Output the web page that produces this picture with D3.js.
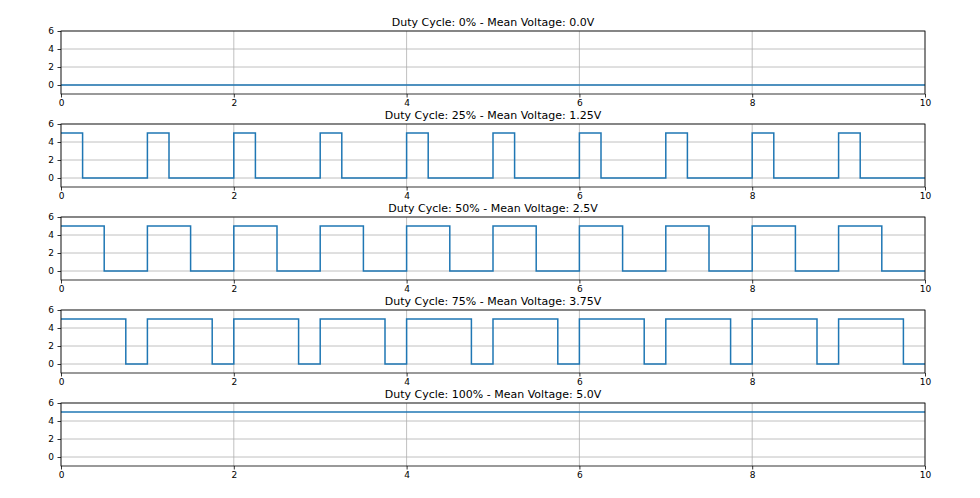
<!DOCTYPE html>
<html><head><meta charset="utf-8">
<script src="https://cdn.jsdelivr.net/npm/d3@7"></script>
<style>body{margin:0;background:#fff}svg{font-family:"DejaVu Sans",sans-serif}</style>
</head><body><svg id="c" width="980" height="498"></svg>
<script>
const titles = ["Duty Cycle: 0% - Mean Voltage: 0.0V","Duty Cycle: 25% - Mean Voltage: 1.25V","Duty Cycle: 50% - Mean Voltage: 2.5V","Duty Cycle: 75% - Mean Voltage: 3.75V","Duty Cycle: 100% - Mean Voltage: 5.0V"];
// step edges: time where level starts, and its value
const t0 = [0, 10];
const v0 = [0, 0];
const t25 = [0,0.25,1,1.25,2,2.25,3,3.25,4,4.25,5,5.25,6,6.25,7,7.25,8,8.25,9,9.25,10];
const v25 = [5,0,5,0,5,0,5,0,5,0,5,0,5,0,5,0,5,0,5,0,0];
const t50 = [0,0.5,1,1.5,2,2.5,3,3.5,4,4.5,5,5.5,6,6.5,7,7.5,8,8.5,9,9.5,10];
const v50 = [5,0,5,0,5,0,5,0,5,0,5,0,5,0,5,0,5,0,5,0,0];
const t75 = [0,0.75,1,1.75,2,2.75,3,3.75,4,4.75,5,5.75,6,6.75,7,7.75,8,8.75,9,9.75,10];
const v75 = [5,0,5,0,5,0,5,0,5,0,5,0,5,0,5,0,5,0,5,0,0];
const t100 = [0, 10];
const v100 = [5, 5];
const series = [[t0,v0],[t25,v25],[t50,v50],[t75,v75],[t100,v100]];
const xTicks = [0,2,4,6,8,10];
const yTicks = [0,2,4,6];

const svg = d3.select("#c");
const x = d3.scaleLinear().domain([0,10]).range([61,925]);
series.forEach(([ts,vs],i)=>{
  const top = 31 + i*93;
  const y = d3.scaleLinear().domain([-1,6]).range([top+63, top]);
  const g = svg.append("g");
  g.selectAll(".gx").data(xTicks).join("line").attr("x1",d=>x(d)).attr("x2",d=>x(d))
    .attr("y1",top).attr("y2",top+63).attr("stroke","#b0b0b0").attr("stroke-width",0.8);
  g.selectAll(".gy").data(yTicks).join("line").attr("y1",d=>y(d)).attr("y2",d=>y(d))
    .attr("x1",61).attr("x2",925).attr("stroke","#b0b0b0").attr("stroke-width",0.8);
  const pts = ts.map((t,k)=>[t,vs[k]]);
  g.append("path").datum(pts).attr("fill","none").attr("stroke","#1f77b4").attr("stroke-width",1.5)
    .attr("d",d3.line().x(d=>x(d[0])).y(d=>y(d[1])).curve(d3.curveStepAfter));
  const ax = g.append("g").attr("transform",`translate(0,${top+63})`)
    .call(d3.axisBottom(x).tickValues(xTicks).tickFormat(d3.format("d")).tickSize(3.5).tickPadding(2.5));
  const ay = g.append("g").attr("transform","translate(61,0)")
    .call(d3.axisLeft(y).tickValues(yTicks).tickFormat(d3.format("d")).tickSize(3.5).tickPadding(3.5));
  [ax,ay].forEach(a=>{a.select(".domain").remove();a.selectAll("text").attr("font-size",9).attr("fill","#000").attr("font-family","DejaVu Sans");a.selectAll("line").attr("stroke","#000").attr("stroke-width",0.8);});
  g.append("rect").attr("x",61).attr("y",top).attr("width",864).attr("height",63)
    .attr("fill","none").attr("stroke","#000").attr("stroke-width",0.8);
  g.append("text").attr("x",493).attr("y",top-5).attr("text-anchor","middle").attr("font-size",11).text(titles[i]);
});
</script></body></html>
